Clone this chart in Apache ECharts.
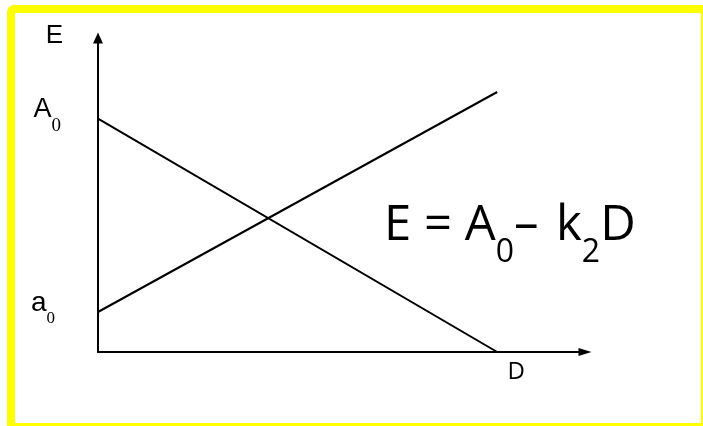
<!DOCTYPE html>
<html>
<head>
<meta charset="utf-8">
<script src="https://cdn.jsdelivr.net/npm/echarts@6/dist/echarts.min.js"></script>
<style>html,body{margin:0;padding:0;background:#fff}#c{width:703px;height:426px}</style>
</head>
<body>
<div id="c"></div>
<script>
// Data (abstract units)
const xMax = 12.2;          // end of D axis
const yMax = 9.42;          // end of E axis
const A0 = 7.0;             // intercept of descending line E = A0 - k2 D
const a0 = 1.2;             // intercept of ascending line
const dEnd = 10;            // D where descending line reaches 0
const riseEnd = [10, 7.8];  // end point of ascending line
const yTickLabels = ['a0', 'A0'];
const xTickLabels = ['D'];

const descLine = [[0, A0], [dEnd, 0]];
const ascLine = [[0, a0], riseEnd];

const chart = echarts.init(document.getElementById('c'), null, {renderer: 'canvas'});
chart.setOption({
  animation: false,
  backgroundColor: '#fff',
  grid: {left: 98, top: 38, width: 487, height: 314},
  xAxis: {
    type: 'value', min: 0, max: xMax,
    axisLine: {show: true, symbol: ['none', 'triangle'], symbolSize: [8, 13], lineStyle: {color: '#000', width: 2}},
    axisTick: {show: false},
    splitLine: {show: false},
    axisLabel: {
      customValues: [dEnd],
      margin: 8,
      formatter: () => xTickLabels[0],
      fontFamily: 'Open Sans', fontSize: 24, color: '#000',
      padding: [0, 0, 0, 38],
      lineHeight: 24
    }
  },
  yAxis: {
    type: 'value', min: 0, max: yMax,
    name: 'E', nameLocation: 'end', nameGap: 2,
    nameTextStyle: {fontFamily: 'Liberation Sans', fontSize: 26, color: '#000', align: 'right', verticalAlign: 'middle', padding: [0, 35, 0, 0]},
    axisLine: {show: true, symbol: ['none', 'triangle'], symbolSize: [10, 11], lineStyle: {color: '#000', width: 2}},
    axisTick: {show: false},
    splitLine: {show: false},
    axisLabel: {
      customValues: [a0, A0],
      margin: 37,
      padding: [0, 0, 18, 0],
      formatter: (v) => v === A0 ? '{m|A}{s|0}' : '{n|a}{t|0}',
      rich: {
        m: {fontFamily: 'Liberation Sans', fontSize: 27, lineHeight: 27, color: '#000', verticalAlign: 'top'},
        s: {fontFamily: 'Liberation Serif', fontSize: 19, lineHeight: 18, color: '#000', verticalAlign: 'top', padding: [20, 0, 0, 0]},
        n: {fontFamily: 'Liberation Sans', fontSize: 28, lineHeight: 27, color: '#000', verticalAlign: 'top'},
        t: {fontFamily: 'Liberation Serif', fontSize: 17, lineHeight: 16, color: '#000', verticalAlign: 'top', padding: [21, 6, 0, 0]}
      }
    }
  },
  series: [
    {type: 'line', data: descLine, symbol: 'none', lineStyle: {color: '#000', width: 2}},
    {type: 'line', data: ascLine, symbol: 'none', lineStyle: {color: '#000', width: 2}}
  ],
  graphic: [
    {type: 'rect', z: -10, silent: true, shape: {x: 7, y: 5, width: 696, height: 421, r: [7, 0, 0, 0]}, style: {fill: '#ffff00'}},
    {type: 'rect', z: -9, silent: true, shape: {x: 15, y: 13, width: 686, height: 410}, style: {fill: '#ffffff'}},
    {
      type: 'text', x: 384, y: 202, z: 10,
      style: {
        text: '{m|E = A}{s|0}{m|–\u200A k}{s|2}{m|D}',
        rich: {
          m: {fontFamily: 'Open Sans', fontSize: 49, lineHeight: 50, fill: '#000', verticalAlign: 'top'},
          s: {fontFamily: 'Open Sans', fontSize: 32, lineHeight: 32, fill: '#000', verticalAlign: 'top', padding: [35, 0, 0, 0]}
        }
      }
    }
  ]
});
</script>
</body>
</html>
